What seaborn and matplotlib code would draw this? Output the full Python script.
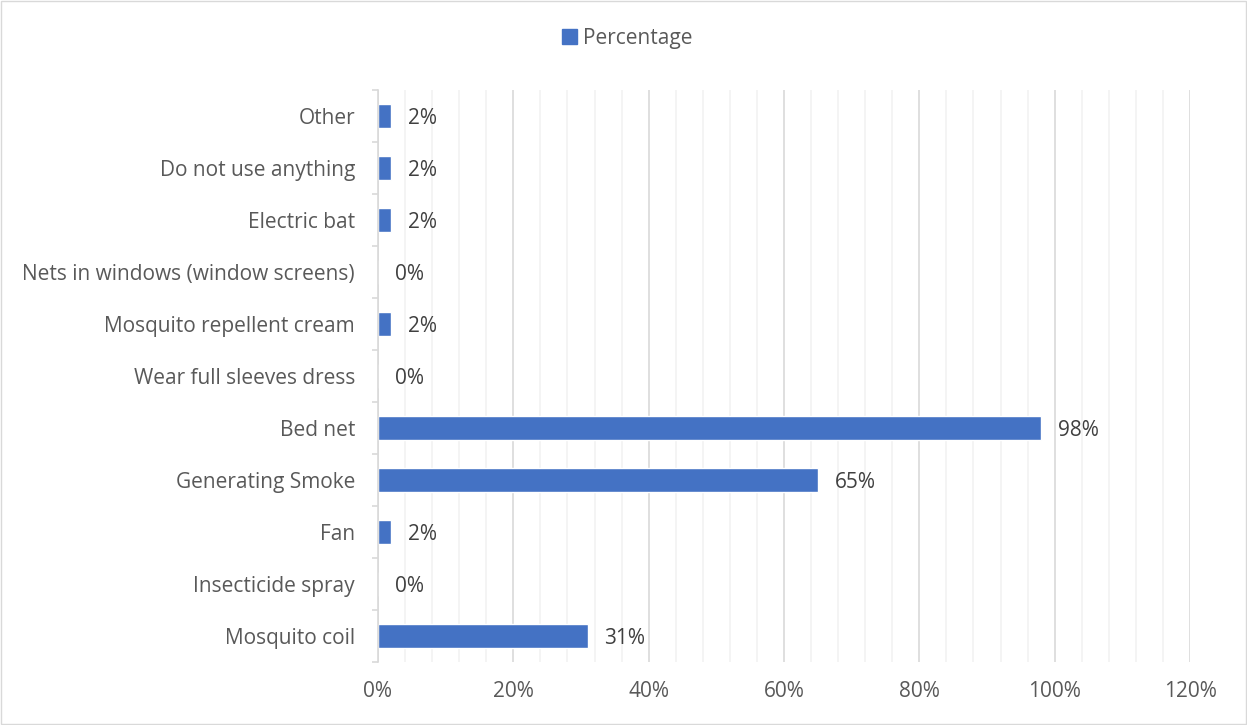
import matplotlib
matplotlib.use("Agg")
import matplotlib.pyplot as plt
import seaborn as sns
import pandas as pd
from matplotlib.patches import Patch, Rectangle
from matplotlib.ticker import MultipleLocator, FuncFormatter

categories = ["Other", "Do not use anything", "Electric bat", "Nets in windows (window screens)",
              "Mosquito repellent cream", "Wear full sleeves dress", "Bed net", "Generating Smoke",
              "Fan", "Insecticide spray", "Mosquito coil"]
percentages = [2, 2, 2, 0, 2, 0, 98, 65, 2, 0, 31]

sns.set_theme(style="white")
plt.rcParams['font.family'] = ['Open Sans', 'DejaVu Sans']

text_color = "#595959"
label_color = "#404040"
bar_color = "#4472C4"
fs = 15

df = pd.DataFrame({"category": categories, "pct": percentages})

fig = plt.figure(figsize=(12.47, 7.25), dpi=100)
ax = fig.add_axes([0.3031, 0.0869, 0.6512, 0.789])

sns.barplot(data=df, y="category", x="pct", orient="h", color=bar_color,
            saturation=1, width=0.45, ax=ax, order=categories)

ax.set_xlim(0, 120)
ax.xaxis.set_major_locator(MultipleLocator(20))
ax.xaxis.set_minor_locator(MultipleLocator(4))
ax.xaxis.set_major_formatter(FuncFormatter(lambda v, p: f"{int(v)}%"))
ax.grid(axis="x", which="major", color="#D9D9D9", linewidth=1.2)
ax.grid(axis="x", which="minor", color="#F2F2F2", linewidth=1.2)
ax.set_axisbelow(True)

for s in ["top", "right", "bottom"]:
    ax.spines[s].set_visible(False)
ax.spines["left"].set_color("#D9D9D9")
ax.spines["left"].set_linewidth(1.2)

ax.set_xlabel("")
ax.set_ylabel("")
ax.tick_params(axis="x", which="both", length=0, pad=14, labelsize=fs, labelcolor=text_color)
ax.tick_params(axis="y", which="major", length=0, pad=16.5, labelsize=fs, labelcolor=text_color)
ax.set_yticks([i + 0.5 for i in range(-1, len(categories))], minor=True)
ax.tick_params(axis="y", which="minor", length=4.5, color="#D9D9D9", width=1.2, direction="out", left=True)
ax.set_ylim(len(categories) - 0.5, -0.5)

for c in ax.containers:
    anns = ax.bar_label(c, labels=[f"{v}%" for v in percentages], padding=12,
                        fontsize=fs, color=label_color)
    for a in anns:
        a.xyann = (12, -2)

fig.legend(handles=[Patch(facecolor=bar_color, edgecolor=bar_color)], labels=["Percentage"],
           loc="center", bbox_to_anchor=(0.503, 0.947), frameon=False, fontsize=fs,
           handlelength=0.7, handleheight=0.7, handletextpad=0.3, labelcolor=text_color)

fig.patches.append(Rectangle((0.0008, 0.0014), 0.9984, 0.9972, transform=fig.transFigure,
                             fill=False, edgecolor="#D9D9D9", linewidth=1))

fig.savefig("out.png", dpi=100)
